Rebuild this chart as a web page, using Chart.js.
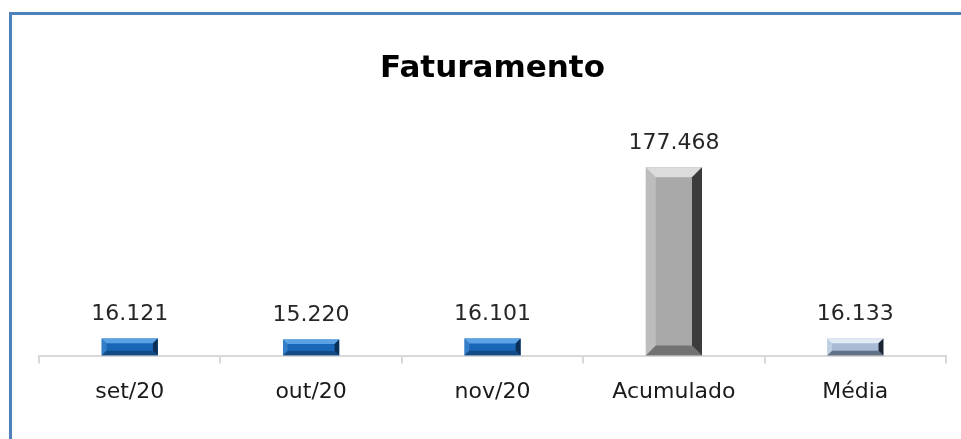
<!DOCTYPE html>
<html>
<head>
<meta charset="utf-8">
<script src="https://cdn.jsdelivr.net/npm/chart.js@4"></script>
<style>
  html, body { margin: 0; padding: 0; background: #fff; }
  #wrap { position: relative; width: 961px; height: 439px; }
  #frame { position: absolute; left: 9px; top: 12px; right: 0; bottom: 0;
           border-left: 3px solid #4f81bd; border-top: 3px solid #4f81bd; }
  #chart { position: absolute; left: 0; top: 0; }
</style>
</head>
<body>
<div id="wrap">
  <div id="frame"></div>
  <canvas id="chart" width="961" height="439"></canvas>
</div>
<script>
// data
const categories = ['set/20', 'out/20', 'nov/20', 'Acumulado', 'Média'];
const faturamento = [16121, 15220, 16101, 177468, 16133];

// bar styles: base, light (top/left), dark (right/bottom)
const barStyles = [
  { base: '#1a66b6', light: '#5aa2e4', dark: '#0b2f57' },
  { base: '#1a66b6', light: '#5aa2e4', dark: '#0b2f57' },
  { base: '#1a66b6', light: '#5aa2e4', dark: '#0b2f57' },
  { base: '#a9a9a9', light: '#dcdcdc', dark: '#3c3c3c' },
  { base: '#a9bcd6', light: '#e2eaf5', dark: '#1c2633' }
];

const FONT = '"DejaVu Sans", sans-serif';

function fmt(v) {
  return String(v).replace(/\B(?=(\d{3})+(?!\d))/g, '.');
}

// bevel look on each bar
const bevelPlugin = {
  id: 'bevel',
  afterDatasetsDraw(chart) {
    const ctx = chart.ctx;
    chart.getDatasetMeta(0).data.forEach((bar, i) => {
      const p = bar.getProps(['x', 'y', 'base', 'width'], true);
      const l = p.x - p.width / 2, r = p.x + p.width / 2;
      const t = p.y, b = p.base;
      const h = b - t;
      const s = Math.min(10, h / 3.5);
      const st = barStyles[i];
      ctx.save();
      // top
      ctx.fillStyle = st.light;
      ctx.beginPath();
      ctx.moveTo(l, t); ctx.lineTo(r, t); ctx.lineTo(r - s, t + s); ctx.lineTo(l + s, t + s);
      ctx.closePath(); ctx.fill();
      // left
      ctx.globalAlpha = 0.4;
      ctx.beginPath();
      ctx.moveTo(l, t); ctx.lineTo(l + s, t + s); ctx.lineTo(l + s, b - s); ctx.lineTo(l, b);
      ctx.closePath(); ctx.fill();
      // right
      ctx.globalAlpha = 1;
      ctx.fillStyle = st.dark;
      ctx.beginPath();
      ctx.moveTo(r, t); ctx.lineTo(r, b); ctx.lineTo(r - s, b - s); ctx.lineTo(r - s, t + s);
      ctx.closePath(); ctx.fill();
      // bottom
      ctx.globalAlpha = 0.5;
      ctx.beginPath();
      ctx.moveTo(l, b); ctx.lineTo(r, b); ctx.lineTo(r - s, b - s); ctx.lineTo(l + s, b - s);
      ctx.closePath(); ctx.fill();
      ctx.restore();
    });
  }
};

// value labels above bars
const valueLabels = {
  id: 'valueLabels',
  afterDatasetsDraw(chart) {
    const ctx = chart.ctx;
    ctx.save();
    ctx.font = '22px ' + FONT;
    ctx.fillStyle = '#262626';
    ctx.textAlign = 'center';
    ctx.textBaseline = 'middle';
    chart.getDatasetMeta(0).data.forEach((bar, i) => {
      ctx.fillText(fmt(faturamento[i]), bar.x, bar.y - 24);
    });
    ctx.restore();
  }
};

new Chart(document.getElementById('chart'), {
  type: 'bar',
  data: {
    labels: categories,
    datasets: [{
      data: faturamento,
      backgroundColor: barStyles.map(s => s.base),
      borderWidth: 0,
      categoryPercentage: 1,
      barPercentage: 0.31
    }]
  },
  options: {
    responsive: false,
    animation: false,
    layout: { padding: { left: 39, right: 15, top: 0, bottom: 19 } },
    plugins: {
      legend: { display: false },
      tooltip: { enabled: false },
      title: {
        display: true,
        text: 'Faturamento',
        color: '#000',
        font: { family: FONT, size: 31, weight: 'bold' },
        padding: { top: 50, bottom: 56 }
      }
    },
    scales: {
      x: {
        grid: { display: true, drawOnChartArea: false, drawTicks: true, tickLength: 8, color: '#d9d9d9', lineWidth: 2, offset: true },
        border: { display: true, color: '#d9d9d9', width: 2 },
        ticks: { color: '#1a1a1a', font: { family: FONT, size: 22 }, padding: 15 }
      },
      y: {
        display: false,
        min: 0,
        max: 200000
      }
    }
  },
  plugins: [bevelPlugin, valueLabels]
});
</script>
</body>
</html>
